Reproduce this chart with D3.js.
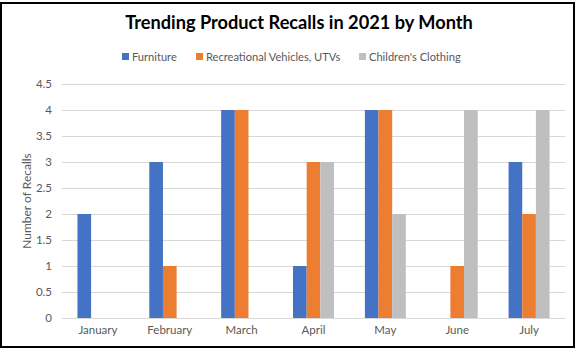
<!DOCTYPE html>
<html><head><meta charset="utf-8">
<script src="https://cdn.jsdelivr.net/npm/d3@7"></script>
<style>body{margin:0;background:#fff}svg{display:block}</style>
</head><body>
<svg id="c" width="578" height="360"></svg>
<script>
const months = ["January","February","March","April","May","June","July"];
const furniture = [2,3,4,1,4,0,3];
const rvUtv = [0,1,4,3,4,1,2];
const childrens = [0,0,0,3,2,4,4];
const seriesNames = ["Furniture","Recreational Vehicles, UTVs","Children's Clothing"];
const colors = ["#4472C4","#ED7D31","#BFBFBF"];
const yTicks = [0,0.5,1,1.5,2,2.5,3,3.5,4,4.5];
const title = "Trending Product Recalls in 2021 by Month";
const yTitle = "Number of Recalls";

const series = [furniture, rvUtv, childrens];
const svg = d3.select("#c");
const font = "Lato, 'Open Sans', sans-serif";

// frame
svg.append("rect").attr("x",1).attr("y",3).attr("width",573).attr("height",344)
  .attr("fill","#fff").attr("stroke","#000").attr("stroke-width",2);

const m = {l:62, r:565, t:84, b:318};
const x = d3.scaleBand().domain(months).range([m.l,m.r]).paddingInner(0).paddingOuter(0);
const y = d3.scaleLinear().domain([0,4.5]).range([m.b,m.t]);
const bw = x.bandwidth()*0.19;
const x1 = d3.scaleBand().domain(d3.range(3)).range([0,bw*3]);

// gridlines
svg.append("g").selectAll("line").data(yTicks).join("line")
  .attr("x1",m.l).attr("x2",m.r).attr("y1",d=>Math.round(y(d))+0.5).attr("y2",d=>Math.round(y(d))+0.5)
  .attr("stroke","#D9D9D9").attr("stroke-width",1);

// bars
const g = svg.append("g");
series.forEach((s,si)=>{
  g.selectAll(null).data(months).join("rect")
    .attr("x",(d,i)=>x(d)+x.bandwidth()/2-bw*1.5+x1(si))
    .attr("width",bw)
    .attr("y",(d,i)=>y(s[i]))
    .attr("height",(d,i)=>y(0)-y(s[i]))
    .attr("fill",colors[si]);
});

// y axis
const ya = d3.axisLeft(y).tickValues(yTicks).tickSize(0).tickPadding(10).tickFormat(d=>String(d));
const yg = svg.append("g").attr("transform",`translate(${m.l},0)`).call(ya);
yg.select(".domain").remove();
yg.selectAll("text").attr("font-family",font).attr("font-size",11.5).attr("fill","#595959");

// x axis
const xa = d3.axisBottom(x).tickSize(0).tickPadding(8);
const xg = svg.append("g").attr("transform",`translate(0,${m.b})`).call(xa);
xg.select(".domain").attr("stroke","#D9D9D9");
xg.selectAll("text").attr("font-family",font).attr("font-size",11.5).attr("fill","#595959");

// y title
svg.append("text").attr("transform",`translate(31,${(m.t+m.b)/2}) rotate(-90)`)
  .attr("text-anchor","middle").attr("font-family",font).attr("font-size",12).attr("fill","#595959").text(yTitle);

// title
const t = svg.append("text").attr("x",299).attr("y",29).attr("text-anchor","middle")
  .attr("font-family",font).attr("font-weight","bold").attr("font-size",18).attr("fill","#000").text(title);
const tw = t.node().getComputedTextLength();
t.attr("font-size",18*348/tw);

// legend
const legX = [122,196,359];
const lg = svg.append("g");
seriesNames.forEach((n,i)=>{
  lg.append("rect").attr("x",legX[i]).attr("y",53).attr("width",7).attr("height",7).attr("fill",colors[i]);
  lg.append("text").attr("x",legX[i]+10).attr("y",61).attr("font-family",font).attr("font-size",11.1).attr("fill","#595959").text(n);
});
</script>
</body></html>
